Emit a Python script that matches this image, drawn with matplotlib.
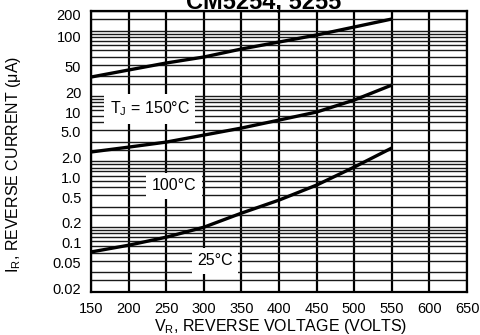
import numpy as np
import matplotlib.pyplot as plt
from matplotlib.ticker import FixedLocator, NullFormatter
from matplotlib.transforms import ScaledTranslation

plt.rcParams['font.family'] = ['Liberation Sans', 'DejaVu Sans']
plt.rcParams['mathtext.default'] = 'regular'

# reverse voltage (V) and reverse current (uA)
voltage = [150, 200, 250, 300, 350, 400, 450, 500, 550]
ir_150c = [19.5, 25.0, 32.0, 39.5, 52.4, 67.0, 85.8, 113.7, 150.8]
ir_100c = [1.39, 1.65, 1.97, 2.52, 3.23, 4.28, 5.68, 8.67, 14.7]
ir_25c = [0.041, 0.052, 0.069, 0.098, 0.161, 0.255, 0.433, 0.816, 1.60]

curve_labels = ['T$_J$ = 150°C', '100°C', '25°C']
label_pos = [(228, 6.3), (260, 0.42), (315, 0.030)]

x_ticks = list(range(150, 651, 50))
y_ticks = [200, 100, 50, 20, 10, 5, 2, 1, 0.5, 0.2, 0.1, 0.05, 0.02]
y_ticklabels = ['200', '100', '50', '20', '10', '5.0', '2.0', '1.0',
                '0.5', '0.2', '0.1', '0.05', '0.02']
grid_mult = [1, 1.5, 2, 3, 4, 5, 6, 7, 8, 9]

fig = plt.figure(figsize=(4.81, 3.35), dpi=100)
ax = fig.add_axes([91 / 481, 1 - 292 / 335, 376 / 481, 281 / 335])
ax.set_yscale('log')
ax.set_xlim(150, 650)
ax.set_ylim(0.01, 200)

grid_vals = [m * 10.0 ** d for d in range(-2, 3) for m in grid_mult if m * 10.0 ** d <= 200]
ax.xaxis.set_major_locator(FixedLocator(x_ticks))
ax.yaxis.set_major_locator(FixedLocator(y_ticks))
ax.set_yticklabels(y_ticklabels)
ax.yaxis.set_minor_locator(FixedLocator(grid_vals))
ax.yaxis.set_minor_formatter(NullFormatter())
ax.tick_params(which='both', length=0, labelsize=10.5, pad=7)

ax.set_axisbelow(True)
ax.grid(axis='x', color='black', lw=1.6)
ax.grid(axis='y', which='both', color='#1a1a1a', lw=1.0)
for sp in ax.spines.values():
    sp.set_linewidth(1.6)

for ir in (ir_150c, ir_100c, ir_25c):
    ax.plot(voltage, ir, color='black', lw=2.4, solid_capstyle='butt', zorder=3)

for txt, (lx, ly) in zip(curve_labels, label_pos):
    ax.text(lx, ly, txt, ha='center', va='center', fontsize=11.5, zorder=4,
            bbox=dict(facecolor='white', edgecolor='none', pad=4))

# the printed tick labels sit a little below their grid lines
shift_px = {'200': 4, '100': 6}
for tick, lab in zip(ax.yaxis.get_major_ticks(), y_ticklabels):
    dy = shift_px.get(lab, 16) / 100
    tick.label1.set_transform(tick.label1.get_transform()
                              + ScaledTranslation(0, -dy, fig.dpi_scale_trans))

ax.set_xlabel('V$_R$, REVERSE VOLTAGE (VOLTS)', fontsize=11.5, va='center')
ax.xaxis.set_label_coords(0.505, -0.121)
ax.set_ylabel('I$_R$, REVERSE CURRENT (μA)', fontsize=11.5, va='center')
ax.yaxis.set_label_coords(-0.205, 0.455)

fig.text(264 / 481, 1 - 8 / 335, 'CM5254, 5255', ha='center', va='baseline',
         fontsize=17, fontweight='bold')

fig.savefig('out.png', dpi=100)
